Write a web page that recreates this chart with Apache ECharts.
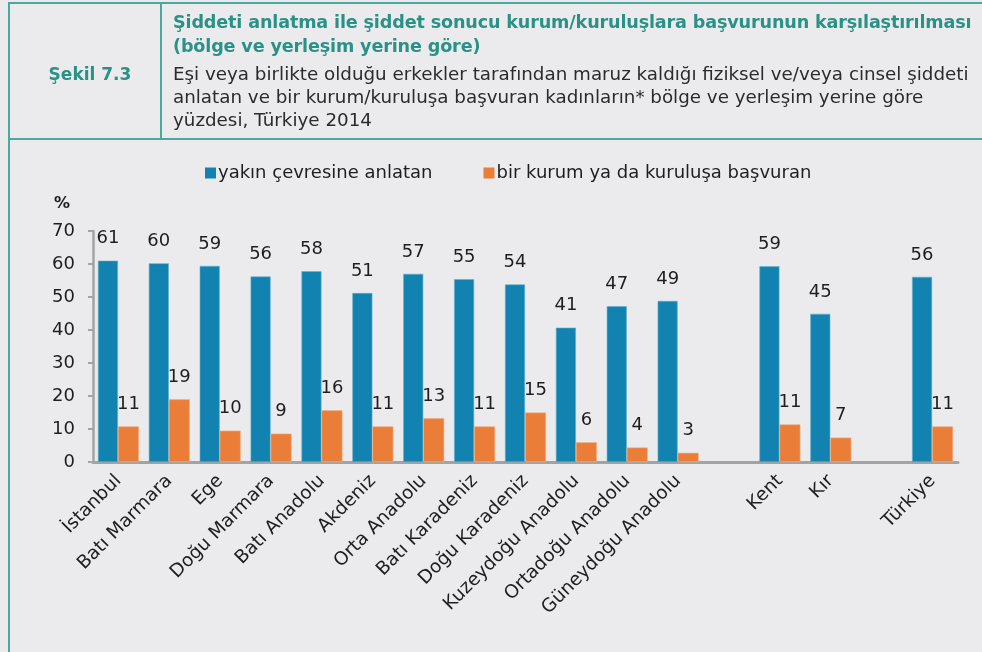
<!DOCTYPE html>
<html>
<head>
<meta charset="utf-8">
<script src="https://cdn.jsdelivr.net/npm/echarts@6/dist/echarts.min.js"></script>
<style>
  body { margin: 0; background: #ebebed; }
  #main { position: absolute; left: 0; top: 0; width: 982px; height: 652px; }
  #head { position: absolute; left: 8px; top: 2px; width: 990px; height: 134px;
    border: 2px solid #4aa89d; border-right: none; font-family: "DejaVu Sans", sans-serif; }
  #leftline { position: absolute; left: 8px; top: 138px; width: 2px; height: 520px; background: #4aa89d; }
  #fig { position: absolute; left: 0; top: 0; width: 140px; padding-left: 10px; height: 134px; border-right: 2px solid #4aa89d;
    color: #2a9186; font-weight: bold; font-size: 17px; line-height: 140px; text-align: center; }
  #txt { position: absolute; left: 163px; top: 6px; width: 820px; white-space: nowrap; }
  #ttl { color: #2a9186; font-weight: bold; font-size: 17.6px; line-height: 24px; letter-spacing: -0.15px; }
  #sub { color: #2b2b2b; font-size: 18.3px; line-height: 23px; margin-top: 4px; }
</style>
</head>
<body>
<div id="main"></div>
<div id="head">
  <div id="fig">Şekil 7.3</div>
  <div id="txt">
    <div id="ttl">Şiddeti anlatma ile şiddet sonucu kurum/kuruluşlara başvurunun karşılaştırılması<br>(bölge ve yerleşim yerine göre)</div>
    <div id="sub">Eşi veya birlikte olduğu erkekler tarafından maruz kaldığı fiziksel ve/veya cinsel şiddeti<br>anlatan ve bir kurum/kuruluşa başvuran kadınların* bölge ve yerleşim yerine göre<br>yüzdesi, Türkiye 2014</div>
  </div>
</div>
<div id="leftline"></div>
<script>
// kategoriler (boş olanlar gruplar arası boşluk)
const categories = ['İstanbul', 'Batı Marmara', 'Ege', 'Doğu Marmara', 'Batı Anadolu', 'Akdeniz',
  'Orta Anadolu', 'Batı Karadeniz', 'Doğu Karadeniz', 'Kuzeydoğu Anadolu', 'Ortadoğu Anadolu',
  'Güneydoğu Anadolu', '', 'Kent', 'Kır', '', 'Türkiye']
const anlatan = [61.0, 60.2, 59.4, 56.2, 57.8, 51.2, 57.0, 55.4, 53.8, 40.7, 47.2, 48.8, null, 59.3, 44.9, null, 56.1]
const basvuran = [10.8, 19.0, 9.5, 8.6, 15.7, 10.8, 13.3, 10.8, 15.0, 6.0, 4.4, 2.8, null, 11.4, 7.4, null, 10.8]
const seriesNames = ['yakın çevresine anlatan', 'bir kurum ya da kuruluşa başvuran']
const yTicks = { min: 0, max: 70, interval: 10 }

const font = '"DejaVu Sans", sans-serif'
const textColor = '#1e1e1e'

function barLabel() {
  return {
    show: true,
    position: 'top',
    distance: 13,
    fontFamily: font,
    fontSize: 18,
    color: textColor,
    formatter: p => Math.round(p.value)
  }
}

const chart = echarts.init(document.getElementById('main'))
chart.setOption({
  backgroundColor: '#ebebed',
  animation: false,
  textStyle: { fontFamily: font },
  legend: {
    left: 200,
    top: 159,
    itemWidth: 11,
    itemHeight: 11,
    itemGap: 51,
    icon: 'rect',
    itemStyle: { borderWidth: 0 },
    textStyle: { fontFamily: font, fontSize: 18, color: textColor, padding: [0, 0, 0, -3] },
    data: seriesNames
  },
  graphic: [{
    type: 'text',
    left: 54,
    top: 196,
    style: { text: '%', fontFamily: font, fontSize: 16, fontWeight: 'bold', fill: textColor }
  }],
  grid: { left: 93, right: 24, top: 231, bottom: 190 },
  xAxis: {
    type: 'category',
    data: categories,
    axisLine: { lineStyle: { color: '#a3a3a3', width: 3 } },
    axisTick: { show: false },
    axisLabel: { rotate: 45, interval: 0, margin: 16, fontFamily: font, fontSize: 18.5, color: textColor }
  },
  yAxis: {
    type: 'value',
    min: yTicks.min,
    max: yTicks.max,
    interval: yTicks.interval,
    splitLine: { show: false },
    axisLine: { show: true, lineStyle: { color: '#a3a3a3', width: 2.5 } },
    axisTick: { show: true, length: 5, lineStyle: { color: '#a3a3a3', width: 2 } },
    axisLabel: { margin: 18, fontFamily: font, fontSize: 18, color: textColor }
  },
  series: [{
    name: seriesNames[0],
    type: 'bar',
    data: anlatan,
    barWidth: 20,
    barGap: '0%',
    itemStyle: { color: '#1283b0', borderColor: '#5fb0cf', borderWidth: 0.6 },
    label: barLabel()
  }, {
    name: seriesNames[1],
    type: 'bar',
    data: basvuran,
    barWidth: 21,
    itemStyle: { color: '#ea7d38', borderColor: '#f3b48a', borderWidth: 0.6 },
    label: barLabel()
  }]
})
</script>
</body>
</html>
